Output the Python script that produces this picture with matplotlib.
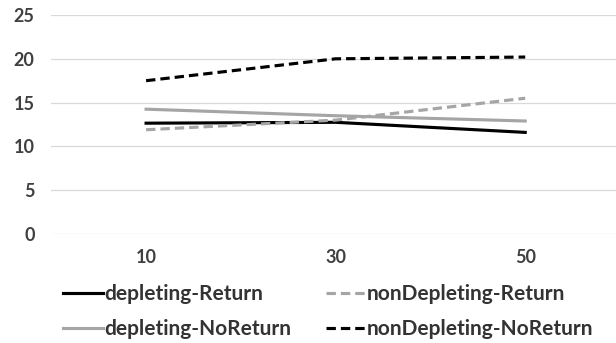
import matplotlib
matplotlib.use("Agg")
import matplotlib.pyplot as plt

categories = ["10", "30", "50"]
depleting_return = [12.65, 12.75, 11.6]
depleting_noreturn = [14.25, 13.5, 12.9]
nondepleting_return = [11.9, 13.0, 15.5]
nondepleting_noreturn = [17.5, 20.0, 20.2]
yticks = [0, 5, 10, 15, 20, 25]

plt.rcParams['font.family'] = ['Lato', 'DejaVu Sans']

fig = plt.figure(figsize=(6.16, 3.43), dpi=100)
ax = fig.add_axes([51.3/616, (343-234)/343, (620-51.3)/616, (234-15)/343])
x = list(range(len(categories)))
black = "#000000"
gray = "#A5A5A5"
lw = 2.25
l1, = ax.plot(x, depleting_return, color=black, lw=lw, label="depleting-Return")
l2, = ax.plot(x, nondepleting_return, color=gray, lw=lw, ls=(0, (3, 1.6)), label="nonDepleting-Return")
l3, = ax.plot(x, depleting_noreturn, color=gray, lw=lw, label="depleting-NoReturn")
l4, = ax.plot(x, nondepleting_noreturn, color=black, lw=lw, ls=(0, (3, 1.6)), label="nonDepleting-NoReturn")

ax.set_xlim(-0.5, 2.5)
ax.set_ylim(0, 25)
ax.set_yticks(yticks)
ax.set_xticks(x)
ax.set_xticklabels(categories)
ax.yaxis.grid(True, color="#D9D9D9", lw=0.9)
ax.set_axisbelow(True)
for s in ax.spines.values():
    s.set_visible(False)
ax.tick_params(axis='both', length=0, labelsize=13, labelcolor="#404040")
ax.tick_params(axis='x', pad=11)
ax.tick_params(axis='y', pad=12)
for t in ax.get_xticklabels() + ax.get_yticklabels():
    t.set_fontweight('bold')

handles = [l1, l3, l2, l4]
labels = [h.get_label() for h in handles]
leg = fig.legend(handles, labels, ncol=2, loc='upper left', bbox_to_anchor=(57/616, 1 - 278/343),
                 frameon=False, fontsize=15, handlelength=1.9, handletextpad=0.05,
                 columnspacing=1.7, labelspacing=0.7, labelcolor="#333333",
                 borderaxespad=0, borderpad=0.3)
for t in leg.get_texts():
    t.set_fontweight('bold')

fig.savefig("out.png", dpi=100)
